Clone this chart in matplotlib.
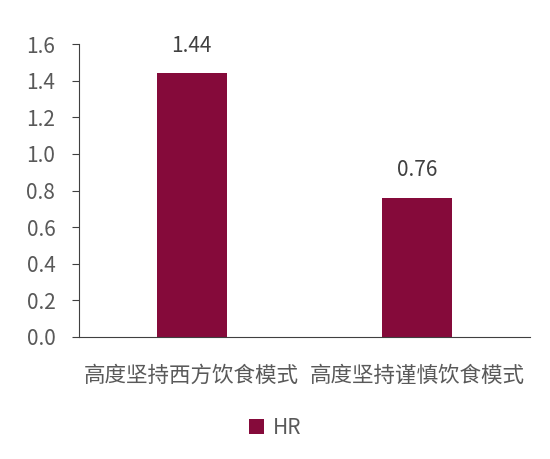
import matplotlib.pyplot as plt

plt.rcParams['font.family'] = ['Noto Sans CJK SC', 'DejaVu Sans']

categories = ['高度坚持西方饮食模式', '高度坚持谨慎饮食模式']
hr_values = [1.44, 0.76]
y_ticks = [0.0, 0.2, 0.4, 0.6, 0.8, 1.0, 1.2, 1.4, 1.6]

bar_color = '#850A3A'
text_color = '#595959'

fig = plt.figure(figsize=(5.5, 4.59), dpi=100)
ax = fig.add_axes([0.1436, 0.2658, 0.82, 0.6383])

bars = ax.bar(range(len(categories)), hr_values, width=0.31, color=bar_color, label='HR')
for rect, v in zip(bars, hr_values):
    ax.text(rect.get_x() + rect.get_width() / 2, v + 0.09, f'{v:.2f}',
            ha='center', va='bottom', fontsize=15, color='#404040')

ax.set_xlim(-0.5, 1.5)
ax.set_ylim(0, 1.6)
ax.set_yticks(y_ticks)
ax.set_yticklabels([f'{t:.1f}' for t in y_ticks])
ax.set_xticks(range(len(categories)))
ax.set_xticklabels(categories, fontsize=15.5, color=text_color)

for s in ['top', 'right']:
    ax.spines[s].set_visible(False)
ax.spines['left'].set_color('#404040')
ax.spines['bottom'].set_color('#404040')
ax.tick_params(axis='y', direction='out', length=5, color='#404040',
               labelsize=15, labelcolor=text_color, pad=12)
ax.tick_params(axis='x', length=0, pad=20)

fig.legend(loc='center', bbox_to_anchor=(0.5, 0.068), frameon=False,
           fontsize=15, handlelength=0.75, handleheight=0.75, handletextpad=0.4,
           labelcolor=text_color)

fig.savefig('out.png', dpi=100)
